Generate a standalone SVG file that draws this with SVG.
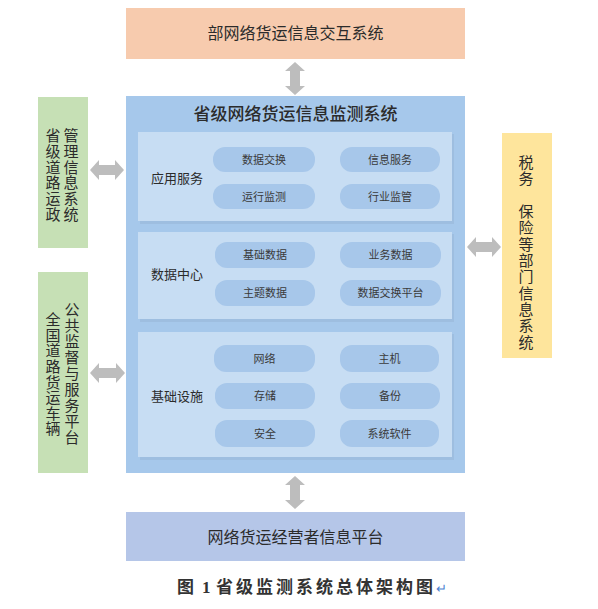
<svg xmlns="http://www.w3.org/2000/svg" width="598" height="609" viewBox="0 0 598 609">
<style>
.t{font-family:"Noto Sans CJK SC","Noto Sans",sans-serif;fill:#2b2b2b}
.big{font-size:16px;text-anchor:middle}
.lbl{font-size:13px;text-anchor:middle}
.pt{font-size:11px;text-anchor:middle;fill:#3a3a3a}
.pill{fill:#A7C7EA}
.sec{fill:#C7DDF3}
.secsh{fill:#9EBEE0}
.arr{fill:#BDBDBD}
.vt{font-size:15px;writing-mode:vertical-rl;text-orientation:upright}
</style>
<rect width="598" height="609" fill="#ffffff"/>
<g id="connectors">
<path class="arr" d="M295,62 L305,71 L300,71 L300,86 L305,86 L295,95 L285,86 L290,86 L290,71 L285,71 Z"/>
<path class="arr" d="M295,476 L305,485 L300,485 L300,500 L305,500 L295,509 L285,500 L290,500 L290,485 L285,485 Z"/>
<path class="arr" d="M90,170 L99,160 L99,165 L115,165 L115,160 L124,170 L115,180 L115,175 L99,175 L99,180 Z"/>
<path class="arr" d="M90,373 L99,363 L99,368 L116,368 L116,363 L125,373 L116,383 L116,378 L99,378 L99,383 Z"/>
<path class="arr" d="M467,247 L476,237 L476,242 L492,242 L492,237 L501,247 L492,257 L492,252 L476,252 L476,257 Z"/>
</g>
<g id="top">
<rect x="126" y="8" width="339" height="51" fill="#F7CBAE"/>
<text class="t big" x="295.5" y="39">部网络货运信息交互系统</text>
</g>
<g id="main">
<rect x="126" y="96" width="339" height="377" fill="#A6C8EB"/>
<text class="t" x="295.5" y="120" font-size="17" font-weight="500" text-anchor="middle">省级网络货运信息监测系统</text>
</g>
<g id="sec-app">
<rect class="secsh" x="140" y="134" width="314" height="90"/>
<rect class="sec" x="138" y="132" width="314" height="89"/>
<text class="t lbl" x="177" y="183">应用服务</text>
</g>
<g id="p-sjjh"><rect class="pill" x="213" y="147" width="102" height="25" rx="12"/><text class="t pt" x="264" y="163.5">数据交换</text></g>
<g id="p-xxfw"><rect class="pill" x="340" y="147" width="100" height="25" rx="12"/><text class="t pt" x="390" y="163.5">信息服务</text></g>
<g id="p-yxjc"><rect class="pill" x="213" y="184" width="102" height="25" rx="12"/><text class="t pt" x="264" y="200.5">运行监测</text></g>
<g id="p-hyjg"><rect class="pill" x="340" y="184" width="100" height="25" rx="12"/><text class="t pt" x="390" y="200.5">行业监管</text></g>
<g id="sec-data">
<rect class="secsh" x="140" y="234" width="314" height="88"/>
<rect class="sec" x="138" y="232" width="314" height="87"/>
<text class="t lbl" x="177" y="279">数据中心</text>
</g>
<g id="p-jcsj"><rect class="pill" x="215" y="242" width="100" height="26" rx="12"/><text class="t pt" x="265" y="259">基础数据</text></g>
<g id="p-ywsj"><rect class="pill" x="340" y="242" width="101" height="26" rx="12"/><text class="t pt" x="390.5" y="259">业务数据</text></g>
<g id="p-ztsj"><rect class="pill" x="215" y="280" width="100" height="26" rx="12"/><text class="t pt" x="265" y="297">主题数据</text></g>
<g id="p-sjjhpt"><rect class="pill" x="340" y="280" width="101" height="26" rx="12"/><text class="t pt" x="390.5" y="297">数据交换平台</text></g>
<g id="sec-infra">
<rect class="secsh" x="140" y="334" width="314" height="126"/>
<rect class="sec" x="138" y="332" width="314" height="125"/>
<text class="t lbl" x="177" y="401">基础设施</text>
</g>
<g id="p-wl"><rect class="pill" x="214" y="345" width="101" height="27" rx="12"/><text class="t pt" x="264.5" y="362.5">网络</text></g>
<g id="p-zj"><rect class="pill" x="340" y="345" width="99" height="27" rx="12"/><text class="t pt" x="389.5" y="362.5">主机</text></g>
<g id="p-cc"><rect class="pill" x="215" y="383" width="100" height="26" rx="12"/><text class="t pt" x="265" y="400">存储</text></g>
<g id="p-bf"><rect class="pill" x="340" y="383" width="100" height="26" rx="12"/><text class="t pt" x="390" y="400">备份</text></g>
<g id="p-aq"><rect class="pill" x="215" y="420" width="100" height="27" rx="12"/><text class="t pt" x="265" y="437.5">安全</text></g>
<g id="p-xtrj"><rect class="pill" x="340" y="420" width="99" height="27" rx="12"/><text class="t pt" x="389.5" y="437.5">系统软件</text></g>
<g id="left1">
<rect x="38" y="97" width="50" height="151" fill="#C6E0B5"/>
<text class="t vt" x="71" y="128" letter-spacing="0.7">管理信息系统</text>
<text class="t vt" x="53" y="128" letter-spacing="0.7">省级道路运政</text>
</g>
<g id="left2">
<rect x="38" y="272" width="50" height="201" fill="#C6E0B5"/>
<text class="t vt" x="72" y="302" letter-spacing="1">公共监督与服务平台</text>
<text class="t vt" x="53" y="312" letter-spacing="0.6">全国道路货运车辆</text>
</g>
<g id="right">
<rect x="502" y="133" width="50" height="225" fill="#FEE59C"/>
<text class="t vt" x="526" y="155" letter-spacing="1.3">税务</text>
<text class="t vt" x="526" y="204" letter-spacing="1.3">保险等部门信息系统</text>
</g>
<g id="bottom">
<rect x="126" y="512" width="339" height="49" fill="#B5C6E8"/>
<text class="t big" x="295.5" y="543">网络货运经营者信息平台</text>
</g>
<g id="caption">
<text font-family="'Liberation Serif','Noto Sans CJK SC',serif" font-size="17" font-weight="bold" fill="#333"><tspan x="177" y="593">图</tspan><tspan x="202" y="593">1</tspan><tspan x="216" y="593" letter-spacing="3">省级监测系统总体架构图</tspan><tspan fill="#4a7fd0" font-weight="normal" font-size="13">↵</tspan></text>
</g>
</svg>
